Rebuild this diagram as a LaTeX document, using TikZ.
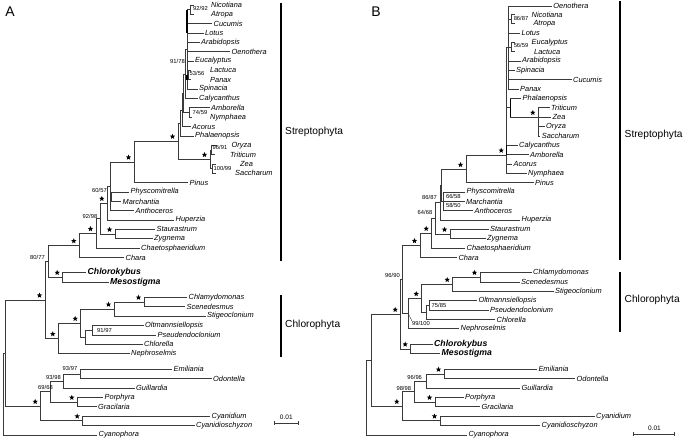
\documentclass[tikz,border=0pt]{standalone}
\usepackage{fontspec}
\setmainfont{Liberation Sans}
\usetikzlibrary{shapes.geometric}
\definecolor{brgray}{HTML}{3A3A3A}

\begin{document}
\begin{tikzpicture}[x=1pt,y=-1pt]
\tikzset{
tx/.style={anchor=west,inner sep=1.5pt,font=\fontsize{7.4}{8}\selectfont\itshape},
txb/.style={anchor=west,inner sep=1.5pt,font=\fontsize{8.7}{9}\selectfont\bfseries\itshape},
bs/.style={inner sep=0pt,font=\fontsize{5.8}{6}\selectfont},
br/.style={draw=brgray,line width=0.7pt},
thk/.style={draw=black,line width=1.4pt},
clade/.style={draw=black,line width=1.1pt},
cladetx/.style={anchor=west,inner sep=0pt,font=\fontsize{10.2}{11}\selectfont},
st/.style={star,star points=5,star point ratio=2.3,fill=black,inner sep=0pt,minimum size=5.6pt,xshift=-5.5pt,yshift=4.5pt},
panel/.style={inner sep=0pt,font=\fontsize{14}{14}\selectfont}}
\useasboundingbox (0,0) rectangle (685,440);

\node[panel] (pA) at (10,12) {A};
\node[panel] (pB) at (376,12) {B};

% ---------------- tree A: taxa
\node[tx] (aNic) at (209.5,5) {Nicotiana};
\node[tx] (aAtr) at (209.5,14.4) {Atropa};
\node[tx] (aCuc) at (212,23.7) {Cucumis};
\node[tx] (aLot) at (203.5,33) {Lotus};
\node[tx] (aAra) at (199.5,42.4) {Arabidopsis};
\node[tx] (aOen) at (230,51.7) {Oenothera};
\node[tx] (aEuc) at (193.5,61) {Eucalyptus};
\node[tx] (aLac) at (208.5,70.4) {Lactuca};
\node[tx] (aPan) at (208.5,79.8) {Panax};
\node[tx] (aSpi) at (197.5,89) {Spinacia};
\node[tx] (aCaly) at (197.5,98.5) {Calycanthus};
\node[tx] (aAmb) at (209.5,107.8) {Amborella};
\node[tx] (aNym) at (208.5,117.2) {Nymphaea};
\node[tx] (aAco) at (190.5,126.5) {Acorus};
\node[tx] (aPha) at (193.5,135.9) {Phalaenopsis};
\node[tx] (aOry) at (230,145.2) {Oryza};
\node[tx] (aTri) at (228.5,154.6) {Triticum};
\node[tx] (aZea) at (238.5,164) {Zea};
\node[tx] (aSac) at (233.5,173.3) {Saccharum};
\node[tx] (aPin) at (188,182.6) {Pinus};
\node[tx] (aPhy) at (129,192) {Physcomitrella};
\node[tx] (aMar) at (121,201.4) {Marchantia};
\node[tx] (aAnt) at (134,210.7) {Anthoceros};
\node[tx] (aHup) at (174,220) {Huperzia};
\node[tx] (aSta) at (155,229.4) {Staurastrum};
\node[tx] (aZyg) at (152.5,238.8) {Zygnema};
\node[tx] (aChae) at (139.5,248.1) {Chaetosphaeridium};
\node[tx] (aChar) at (124,257.5) {Chara};
\node[txb] (aChk) at (86,272.3) {Chlorokybus};
\node[txb] (aMes) at (108.5,282) {Mesostigma};
\node[tx] (aChl) at (187,297.3) {Chlamydomonas};
\node[tx] (aSce) at (185,306.7) {Scenedesmus};
\node[tx] (aStg) at (205.5,316) {Stigeoclonium};
\node[tx] (aOlt) at (143.5,325.5) {Oltmannsiellopsis};
\node[tx] (aPse) at (156,335) {Pseudendoclonium};
\node[tx] (aChlo) at (142.5,344.3) {Chlorella};
\node[tx] (aNep) at (129.5,353.7) {Nephroselmis};
\node[tx] (aEmi) at (172,369.3) {Emiliania};
\node[tx] (aOdo) at (211.5,378.7) {Odontella};
\node[tx] (aGui) at (134.5,388) {Guillardia};
\node[tx] (aPor) at (103,397.4) {Porphyra};
\node[tx] (aGra) at (96.5,406.8) {Gracilaria};
\node[tx] (aCyd) at (210,416.1) {Cyanidium};
\node[tx] (aCys) at (194.5,425.5) {Cyanidioschyzon};
\node[tx] (aCyo) at (97,435) {Cyanophora};

% short tips where a support value sits between tip and name
\coordinate (aNicT) at (193.5,5);
\coordinate (aAtrT) at (193.5,14.4);
\coordinate (aLacT) at (191,70.4);
\coordinate (aPanT) at (191,79.8);
\coordinate (aNymT) at (192,117.2);
\coordinate (aOryT) at (217,145.2);
\coordinate (aTriT) at (214.5,154.6);
\coordinate (aZeaT) at (215.5,164);
\coordinate (aSacT) at (215.5,173.3);

% ---------------- tree A: internal nodes
\coordinate (aNA) at (190.7,9.7);
\coordinate (aLP) at (188.5,75.1);
\coordinate (aAN) at (189.3,112.5);
\coordinate (aOT) at (211.7,149.9);
\coordinate (aZS) at (212.7,168.7);
\coordinate (aGr) at (210,159.3);
\coordinate (aE1) at (187,49.4);
\coordinate (aE2) at (185,74);
\coordinate (aE3) at (183.5,93);
\coordinate (aE4) at (182,110);
\coordinate (aE5) at (180.3,123);
\coordinate (aAng) at (178,141.1);
\coordinate (aSeed) at (134,161.9);
\coordinate (aBry) at (111.7,196.7);
\coordinate (a60) at (110,186.3);
\coordinate (a107) at (107.3,203.2);
\coordinate (aSZ) at (115,234.1);
\coordinate (a92) at (100,218.7);
\coordinate (a96) at (96,233.4);
\coordinate (aS) at (79.3,245.5);
\coordinate (aCM) at (62.7,277.2);
\coordinate (a80) at (48.3,261.3);
\coordinate (aCS) at (144,302);
\coordinate (aCSS) at (114,309);
\coordinate (aOP) at (92.7,330.3);
\coordinate (aOPC) at (85,337.3);
\coordinate (aCore) at (80.7,323.2);
\coordinate (aCph) at (58.3,338.5);
\coordinate (aGrn) at (45,299.9);
\coordinate (aEO) at (80.7,374);
\coordinate (a93) at (63.3,381);
\coordinate (aPG) at (77.3,402.1);
\coordinate (a69) at (50,391.6);
\coordinate (aCy) at (82.7,420.8);
\coordinate (aRed) at (40.7,406.2);
\coordinate (aIn) at (5,353);
\coordinate (aRt) at (3.3,394);

\draw[br] (aNA) |- (aNicT) (aNA) |- (aAtrT) (aLP) |- (aLacT) (aLP) |- (aPanT)
  (aAN) |- (aAmb.west) (aAN) |- (aNymT) (aOT) |- (aOryT) (aOT) |- (aTriT)
  (aZS) |- (aZeaT) (aZS) |- (aSacT) (aGr) |- (aOT) (aGr) |- (aZS);
\draw[br] (aE1) |- (aNA) (aE1) |- (aCuc.west) (aE1) |- (aLot.west) (aE1) |- (aAra.west)
  (aE1) |- (aOen.west) (aE1) |- (aEuc.west) (aE1) |- (aLP) (aE1) |- (aSpi.west);
\draw[br] (aE2) |- (aE1) (aE2) |- (aCaly.west) (aE3) |- (aE2) (aE3) |- (aAN)
  (aE4) |- (aE3) (aE4) |- (aAco.west) (aE5) |- (aE4) (aE5) |- (aPha.west)
  (aAng) |- (aE5) (aAng) |- (aGr) (aSeed) |- (aAng) (aSeed) |- (aPin.west);
\draw[thk] (aE1 |- aNA) -- (aE1 |- aLot.west) (aE1 |- aLP) -- (aE1 |- aPan.west);
\draw[br] (aBry) |- (aPhy.west) (aBry) |- (aMar.west) (a60) |- (aSeed) (a60) |- (aBry)
  (a60) |- (aAnt.west) (a107) |- (a60) (a107) |- (aHup.west)
  (aSZ) |- (aSta.west) (aSZ) |- (aZyg.west) (a92) |- (a107) (a92) |- (aSZ)
  (a96) |- (a92) (a96) |- (aChae.west) (aS) |- (a96) (aS) |- (aChar.west)
  (aCM) |- (aChk.west) (aCM) |- (aMes.west) (a80) |- (aS) (a80) |- (aCM);
\draw[br] (aCS) |- (aChl.west) (aCS) |- (aSce.west) (aCSS) |- (aCS) (aCSS) |- (aStg.west)
  (aOP) |- (aOlt.west) (aOP) |- (aPse.west) (aOPC) |- (aOP) (aOPC) |- (aChlo.west)
  (aCore) |- (aCSS) (aCore) |- (aOPC) (aCph) |- (aCore) (aCph) |- (aNep.west)
  (aGrn) |- (a80) (aGrn) |- (aCph);
\draw[br] (aEO) |- (aEmi.west) (aEO) |- (aOdo.west) (a93) |- (aEO) (a93) |- (aGui.west)
  (aPG) |- (aPor.west) (aPG) |- (aGra.west) (a69) |- (a93) (a69) |- (aPG)
  (aCy) |- (aCyd.west) (aCy) |- (aCys.west) (aRed) |- (a69) (aRed) |- (aCy)
  (aIn) |- (aGrn) (aIn) |- (aRed) (aRt) |- (aIn) (aRt) |- (aCyo.west);

% stars = full support
\node[st] (saGr) at (aGr) {};
\node[st] (saAng) at (aAng) {};
\node[st] (saSeed) at (aSeed) {};
\node[st] (sa107) at (a107) {};
\node[st] (saSZ) at (aSZ) {};
\node[st] (sa96) at (a96) {};
\node[st] (saS) at (aS) {};
\node[st] (saCM) at (aCM) {};
\node[st] (saCS) at (aCS) {};
\node[st] (saCSS) at (aCSS) {};
\node[st] (saCore) at (aCore) {};
\node[st] (saCph) at (aCph) {};
\node[st] (saGrn) at (aGrn) {};
\node[st] (saPG) at (aPG) {};
\node[st] (saCy) at (aCy) {};
\node[st] (saRed) at (aRed) {};

\node[bs] (la1) at (200.5,8.5) {92/92};
\node[bs] (la2) at (177.5,61) {91/78};
\node[bs] (la3) at (197,73) {53/56};
\node[bs] (la4) at (200,112.5) {74/59};
\node[bs] (la5) at (220,147.7) {96/91};
\node[bs] (la6) at (222.5,168.3) {100/99};
\node[bs] (la7) at (99.5,190) {60/57};
\node[bs] (la8) at (90,216) {92/98};
\node[bs] (la9) at (37.5,257.3) {80/77};
\node[bs] (la10) at (104.5,330.7) {91/97};
\node[bs] (la11) at (70,368.5) {93/97};
\node[bs] (la12) at (53.5,377.5) {93/98};
\node[bs] (la13) at (45.5,387.5) {69/68};

\coordinate (aStT) at (281,3);
\coordinate (aStB) at (281,261);
\draw[clade] (aStT) -- (aStB);
\node[cladetx] (aStL) at (285,132) {Streptophyta};
\coordinate (aChT) at (281,295);
\coordinate (aChB) at (281,356.7);
\draw[clade] (aChT) -- (aChB);
\node[cladetx] (aChL) at (285,325) {Chlorophyta};

\coordinate (aSb1) at (274.3,423.3);
\coordinate (aSb2) at (298.3,423.3);
\draw[br] (aSb1) -- (aSb2) (aSb1) ++(0,-2) -- ++(0,4) (aSb2) ++(0,-2) -- ++(0,4);
\node[bs,font=\fontsize{6.5}{7}\selectfont] (aSbL) at (286.3,417) {0.01};

% ---------------- tree B: taxa
\node[tx] (bOen) at (551.7,6) {Oenothera};
\node[tx] (bNic) at (530,14.4) {Nicotiana};
\node[tx] (bAtr) at (531.8,23.7) {Atropa};
\node[tx] (bLot) at (520,33) {Lotus};
\node[tx] (bEuc) at (530,42.4) {Eucalyptus};
\node[tx] (bLac) at (532.5,51.7) {Lactuca};
\node[tx] (bAra) at (520.5,61) {Arabidopsis};
\node[tx] (bSpi) at (514.5,70.4) {Spinacia};
\node[tx] (bCuc) at (571.5,79.8) {Cucumis};
\node[tx] (bPan) at (518.5,89) {Panax};
\node[tx] (bPha) at (521,98.5) {Phalaenopsis};
\node[tx] (bTri) at (549.5,107.8) {Triticum};
\node[tx] (bZea) at (551,117.2) {Zea};
\node[tx] (bOry) at (544.5,126.5) {Oryza};
\node[tx] (bSac) at (540.2,135.9) {Saccharum};
\node[tx] (bCaly) at (517.5,145.2) {Calycanthus};
\node[tx] (bAmb) at (528.5,154.6) {Amborella};
\node[tx] (bAco) at (512,164) {Acorus};
\node[tx] (bNym) at (526.5,173.3) {Nymphaea};
\node[tx] (bPin) at (533.5,182.6) {Pinus};
\node[tx] (bPhy) at (465,192) {Physcomitrella};
\node[tx] (bMar) at (464.5,201.4) {Marchantia};
\node[tx] (bAnt) at (473,210.7) {Anthoceros};
\node[tx] (bHup) at (520,220) {Huperzia};
\node[tx] (bSta) at (488.5,229.4) {Staurastrum};
\node[tx] (bZyg) at (485.5,238.8) {Zygnema};
\node[tx] (bChae) at (465,248.1) {Chaetosphaeridium};
\node[tx] (bChar) at (456.8,257.5) {Chara};
\node[tx] (bChl) at (531.5,272.5) {Chlamydomonas};
\node[tx] (bSce) at (519.5,282) {Scenedesmus};
\node[tx] (bStg) at (553.5,291.4) {Stigeoclonium};
\node[tx] (bOlt) at (476.8,300.8) {Oltmannsiellopsis};
\node[tx] (bPse) at (488.5,310.1) {Pseudendoclonium};
\node[tx] (bChlo) at (495,319.5) {Chlorella};
\node[tx] (bNep) at (459,328.8) {Nephroselmis};
\node[txb] (bChk) at (432.5,344) {Chlorokybus};
\node[txb] (bMes) at (440,353.7) {Mesostigma};
\node[tx] (bEmi) at (536.8,369.3) {Emiliania};
\node[tx] (bOdo) at (575,378.7) {Odontella};
\node[tx] (bGui) at (520,388) {Guillardia};
\node[tx] (bPor) at (463.5,397.4) {Porphyra};
\node[tx] (bGra) at (480,406.8) {Gracilaria};
\node[tx] (bCyd) at (594.5,416.1) {Cyanidium};
\node[tx] (bCys) at (540,425.5) {Cyanidioschyzon};
\node[tx] (bCyo) at (466.8,435) {Cyanophora};

\coordinate (bNicT) at (514.5,14.4);
\coordinate (bAtrT) at (514.5,23.7);
\coordinate (bEucT) at (514.5,42.4);
\coordinate (bLacT) at (514.5,51.7);

% ---------------- tree B: internal nodes
\coordinate (bNA) at (511.7,19);
\coordinate (bEL) at (511.7,47);
\coordinate (bE) at (508,47.5);
\coordinate (bGr) at (538.3,117.2);
\coordinate (bPG2) at (510.7,107);
\coordinate (bAng) at (506.7,155);
\coordinate (bSeed) at (466,169.3);
\coordinate (bBry) at (443.3,201.4);
\coordinate (b86) at (441.5,185.3);
\coordinate (b107) at (440,202.6);
\coordinate (bSZ) at (450,234.1);
\coordinate (b100) at (435,218.4);
\coordinate (b96) at (431.7,233.2);
\coordinate (bS) at (420,245.4);
\coordinate (bCS) at (480,277.2);
\coordinate (bCSS) at (452.7,284.3);
\coordinate (bOP) at (429.3,305.4);
\coordinate (bOPC) at (426,312.5);
\coordinate (bCore) at (421.7,298.4);
\coordinate (bCph) at (408.3,313.6);
\coordinate (bVir) at (402.3,279.5);
\coordinate (bCM) at (410.7,348.9);
\coordinate (bGrn) at (400.7,314.2);
\coordinate (bEO) at (444,374);
\coordinate (b96r) at (426,381);
\coordinate (bPG) at (435,402.1);
\coordinate (b98) at (414,391.5);
\coordinate (bCy) at (440,420.8);
\coordinate (bRed) at (402.3,406.2);
\coordinate (bIn) at (371.7,360.2);
\coordinate (bRt) at (366.7,397.6);

\draw[br] (bNA) |- (bNicT) (bNA) |- (bAtrT) (bEL) |- (bEucT) (bEL) |- (bLacT)
  (bE) |- (bOen.west) (bE) |- (bNA) (bE) |- (bLot.west) (bE) |- (bEL) (bE) |- (bAra.west)
  (bE) |- (bSpi.west) (bE) |- (bCuc.west) (bE) |- (bPan.west);
\draw[br] (bGr) |- (bTri.west) (bGr) |- (bZea.west) (bGr) |- (bOry.west) (bGr) |- (bSac.west)
  (bPG2) |- (bPha.west) (bPG2) |- (bGr)
  (bAng) |- (bE) (bAng) |- (bPG2) (bAng) |- (bCaly.west) (bAng) |- (bAmb.west)
  (bAng) |- (bAco.west) (bAng) |- (bNym.west) (bSeed) |- (bAng) (bSeed) |- (bPin.west);
\draw[thk] (bAng |- bCaly.west) -- (bAng) (bPG2 |- bPha.west) -- (bPG2 |- bGr);
\draw[br] (bBry) |- (bPhy.west) (bBry) |- (bMar.west) (bBry) |- (bAnt.west)
  (b86) |- (bSeed) (b86) |- (bBry) (b107) |- (b86) (b107) |- (bHup.west)
  (bSZ) |- (bSta.west) (bSZ) |- (bZyg.west) (b100) |- (b107) (b100) |- (bSZ)
  (b96) |- (b100) (b96) |- (bChae.west) (bS) |- (b96) (bS) |- (bChar.west);
\draw[br] (bCS) |- (bChl.west) (bCS) |- (bSce.west) (bCSS) |- (bCS) (bCSS) |- (bStg.west)
  (bOP) |- (bOlt.west) (bOP) |- (bPse.west) (bOPC) |- (bOP) (bOPC) |- (bChlo.west)
  (bCore) |- (bCSS) (bCore) |- (bOPC) (bCph) |- (bCore) (bCph) |- (bNep.west)
  (bVir) |- (bS) (bVir) |- (bCph) (bCM) |- (bChk.west) (bCM) |- (bMes.west)
  (bGrn) |- (bVir) (bGrn) |- (bCM);
\draw[br] (bEO) |- (bEmi.west) (bEO) |- (bOdo.west) (b96r) |- (bEO) (b96r) |- (bGui.west)
  (bPG) |- (bPor.west) (bPG) |- (bGra.west) (b98) |- (b96r) (b98) |- (bPG)
  (bCy) |- (bCyd.west) (bCy) |- (bCys.west) (bRed) |- (b98) (bRed) |- (bCy)
  (bIn) |- (bGrn) (bIn) |- (bRed) (bRt) |- (bIn) (bRt) |- (bCyo.west);

\node[st] (sbGr) at (bGr) {};
\node[st] (sbAng) at (bAng) {};
\node[st] (sbSeed) at (bSeed) {};
\node[st] (sbSZ) at (bSZ) {};
\node[st] (sb96) at (b96) {};
\node[st] (sbS) at (bS) {};
\node[st] (sbCS) at (bCS) {};
\node[st] (sbCSS) at (bCSS) {};
\node[st] (sbCore) at (bCore) {};
\node[st] (sbCM) at (bCM) {};
\node[st] (sbGrn) at (bGrn) {};
\node[st] (sbEO) at (bEO) {};
\node[st] (sbPG) at (bPG) {};
\node[st] (sbCy) at (bCy) {};
\node[st] (sbRed) at (bRed) {};

\node[bs] (lb1) at (521,18) {86/87};
\node[bs] (lb2) at (521,45.5) {56/59};
\node[bs] (lb3) at (453.3,196.7) {66/58};
\node[bs] (lb4) at (453.3,205.5) {58/50};
\node[bs] (lb5) at (429.5,197.3) {86/87};
\node[bs] (lb6) at (425,212.7) {64/68};
\node[bs] (lb7) at (392.5,275) {96/90};
\node[bs] (lb8) at (439,305) {75/85};
\node[bs] (lb9) at (421,323.3) {99/100};
\node[bs] (lb10) at (414.7,377.3) {96/96};
\node[bs] (lb11) at (403.8,388.3) {98/98};
\draw[br,line width=0.4pt] (bCph) -- (lb9.north west);

\coordinate (bStT) at (620,1);
\coordinate (bStB) at (620,260);
\draw[clade] (bStT) -- (bStB);
\node[cladetx] (bStL) at (624.5,135) {Streptophyta};
\coordinate (bChT) at (620,271.7);
\coordinate (bChB) at (620,331.7);
\draw[clade] (bChT) -- (bChB);
\node[cladetx] (bChL) at (624.5,300) {Chlorophyta};

\coordinate (bSb1) at (633.3,434.3);
\coordinate (bSb2) at (674,434.3);
\draw[br] (bSb1) -- (bSb2) (bSb1) ++(0,-2) -- ++(0,4) (bSb2) ++(0,-2) -- ++(0,4);
\node[bs,font=\fontsize{6.5}{7}\selectfont] (bSbL) at (654.5,428.3) {0.01};
\end{tikzpicture}
\end{document}
